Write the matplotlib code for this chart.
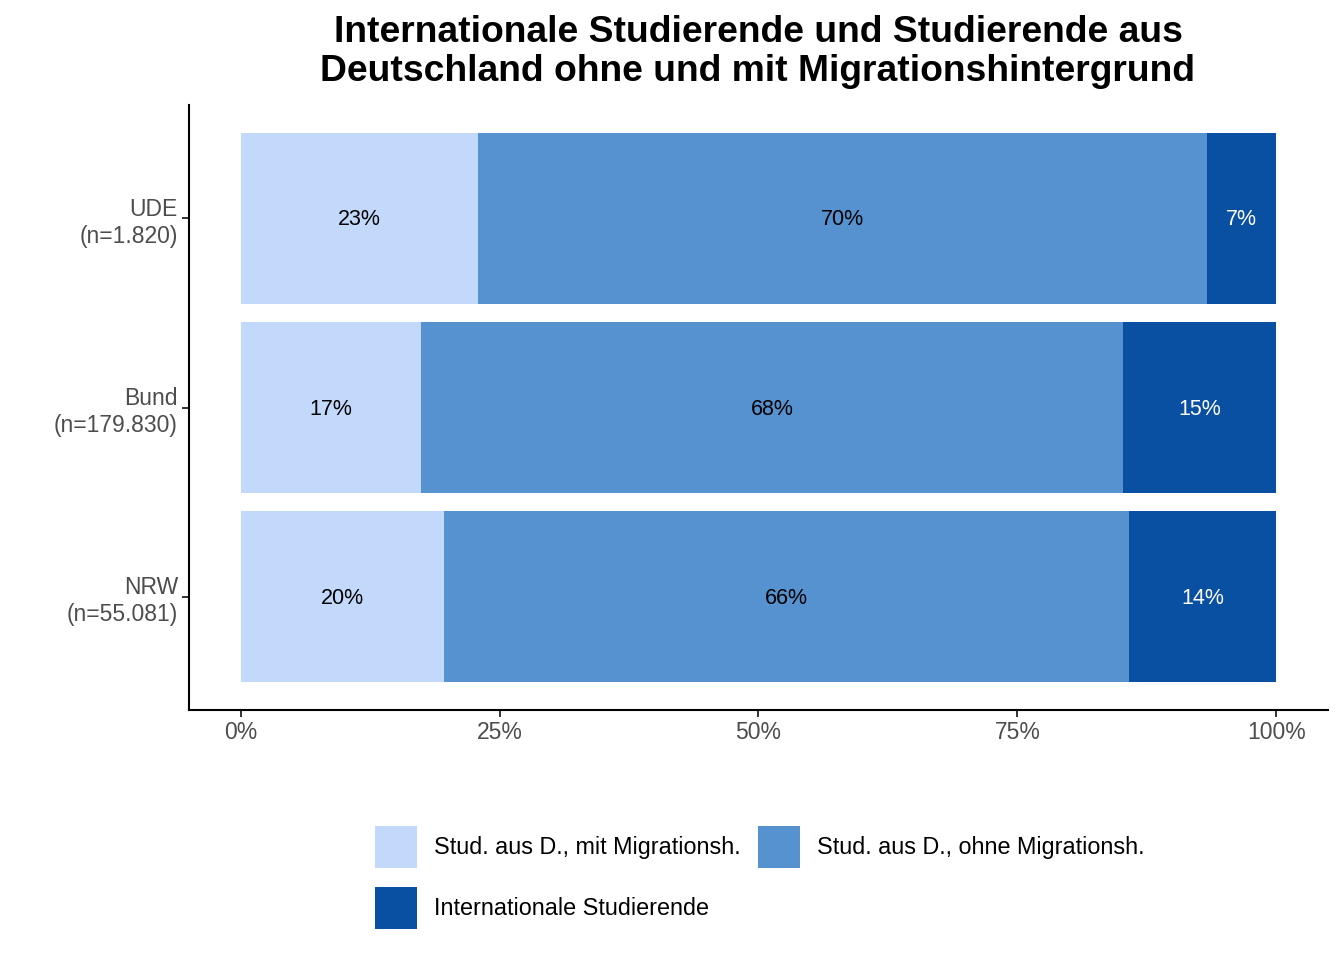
import numpy as np
import matplotlib
matplotlib.use("Agg")
import matplotlib.pyplot as plt
from matplotlib.patches import Patch

plt.rcParams['font.family'] = ['Liberation Sans', 'DejaVu Sans']

# data (shares in percent)
groups = ["UDE\n(n=1.820)", "Bund\n(n=179.830)", "NRW\n(n=55.081)"]
mit_migration = [22.9, 17.4, 19.6]
ohne_migration = [70.4, 67.8, 66.2]
international = [6.7, 14.8, 14.2]

series_names = ["Stud. aus D., mit Migrationsh.",
                "Stud. aus D., ohne Migrationsh.",
                "Internationale Studierende"]
colors = ["#C2D9FC", "#5592CF", "#0A50A2"]
text_colors = ["black", "black", "white"]

fig = plt.figure(figsize=(13.44, 9.6), dpi=100)
ax = fig.add_axes([189/1344, 1-710/960, (1328-189)/1344, (710-105)/960])

ypos = np.arange(len(groups))[::-1] + 1
series = [mit_migration, ohne_migration, international]
left = np.zeros(len(groups))
for vals, col, tcol in zip(series, colors, text_colors):
    vals = np.array(vals)
    ax.barh(ypos, vals, left=left, height=0.9, color=col, linewidth=0)
    for y, l, v in zip(ypos, left, vals):
        ax.text(l + v/2, y - 0.008, f"{round(v)}%", ha="center", va="center",
                color=tcol, fontsize=15.5)
    left = left + vals

ax.set_xlim(-5, 105)
ax.set_ylim(0.4, 3.6)
ax.set_xticks([0, 25, 50, 75, 100])
ax.set_xticklabels(["0%", "25%", "50%", "75%", "100%"])
ax.set_yticks(ypos)
ax.set_yticklabels(groups, linespacing=1.2)
ax.tick_params(axis="both", labelsize=16.5, labelcolor="#4D4D4D",
               color="#333333", length=5, width=1.4, pad=3)
for s in ["top", "right"]:
    ax.spines[s].set_visible(False)
for s in ["left", "bottom"]:
    ax.spines[s].set_linewidth(1.5)

fig.text(758/1344, 1-52/960,
         "Internationale Studierende und Studierende aus\nDeutschland ohne und mit Migrationshintergrund",
         ha="center", va="center", fontsize=26.8, fontweight="bold", linespacing=1.13)

handles = [Patch(facecolor=c, edgecolor="none") for c in colors]
order = [0, 2, 1]
fig.legend([handles[i] for i in order], [series_names[i] for i in order],
           loc="upper left", bbox_to_anchor=(375/1344, 1-826/960),
           ncol=2, frameon=False, fontsize=16.8, borderpad=0, borderaxespad=0,
           handlelength=1.8, handleheight=2.39, handletextpad=0.73,
           columnspacing=0.73, labelspacing=0.82)

fig.savefig("out.png", dpi=100)
